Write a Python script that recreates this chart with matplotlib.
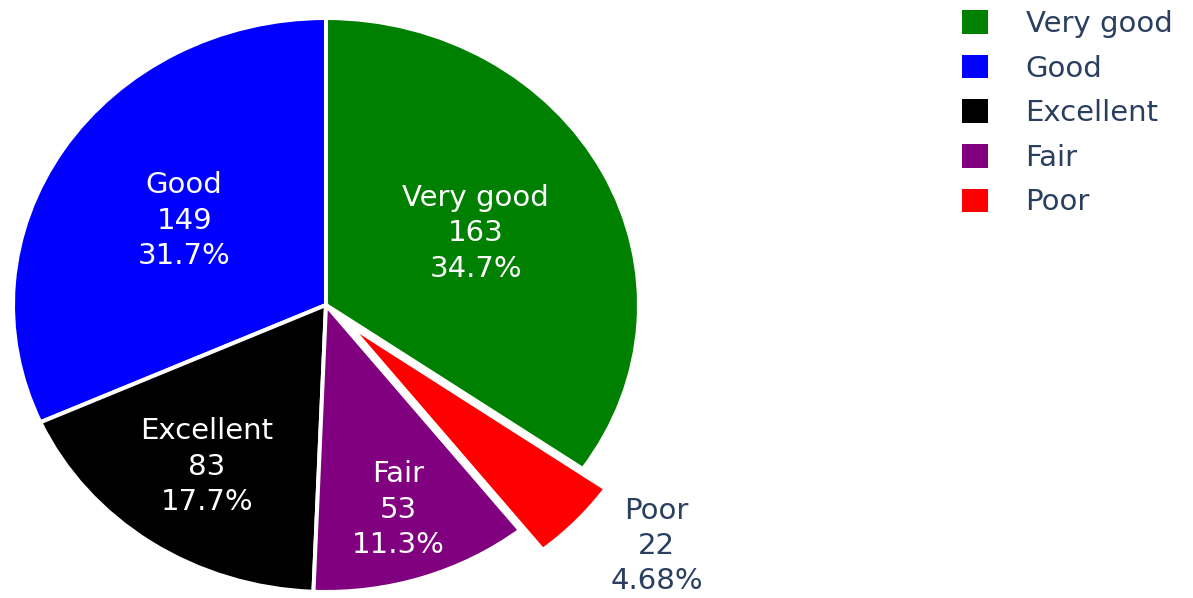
import numpy as np
import matplotlib.pyplot as plt
from matplotlib.patches import Patch

# Survey ratings
categories = ['Very good', 'Good', 'Excellent', 'Fair', 'Poor']
counts = [163, 149, 83, 53, 22]
colors = ['#008000', '#0000ff', '#000000', '#800080', '#ff0000']
pull = [0, 0, 0, 0, 0.1]

# where each label sits (fraction of radius), Poor goes outside
label_r = [0.54, 0.54, 0.68, 0.75, 1.25]
label_nudge = [0, 0, 0, 0, 5.2]
label_inside = [True, True, True, True, False]

text_col = '#2a3f5f'
fs = 21

fig = plt.figure(figsize=(11.93, 5.98), dpi=100)
W, H = 1193, 598
cx, cy, rx, ry = 326, 305, 313, 287
ax = fig.add_axes([(cx - rx) / W, (H - cy - ry) / H, 2 * rx / W, 2 * ry / H])

total = sum(counts)
start = 90 - 360 * counts[0] / total
wedges, _ = ax.pie(counts, colors=colors, explode=pull, startangle=start,
                   counterclock=True,
                   wedgeprops=dict(edgecolor='white', linewidth=2.9))
for w in wedges:
    w.set_clip_on(False)

for i, w in enumerate(wedges):
    mid = np.deg2rad((w.theta1 + w.theta2) / 2)
    ang = np.deg2rad((w.theta1 + w.theta2) / 2 + label_nudge[i])
    ox, oy = pull[i] * np.cos(mid), pull[i] * np.sin(mid)
    x = ox + label_r[i] * np.cos(ang)
    y = oy + label_r[i] * np.sin(ang)
    pct = 100 * counts[i] / total
    pct_s = f'{pct:.3g}%'
    txt = f'{categories[i]}\n{counts[i]}\n{pct_s}'
    ax.text(x, y, txt, ha='center', va='center', multialignment='center',
            fontsize=fs, linespacing=1.33,
            color='white' if label_inside[i] else text_col, clip_on=False)

ax.set_aspect('auto')
ax.set_xlim(-1, 1)
ax.set_ylim(-1, 1)
ax.axis('off')

handles = [Patch(facecolor=c, edgecolor='none') for c in colors]
leg = fig.legend(handles, categories, loc='upper left',
                 bbox_to_anchor=(962 / W, 1 - 10 / H), frameon=False,
                 fontsize=fs, borderpad=0, borderaxespad=0,
                 handlelength=0.88, handleheight=0.86, handletextpad=1.3,
                 labelspacing=0.57)
for t in leg.get_texts():
    t.set_color(text_col)

fig.savefig('out.png', dpi=100, facecolor='white')
